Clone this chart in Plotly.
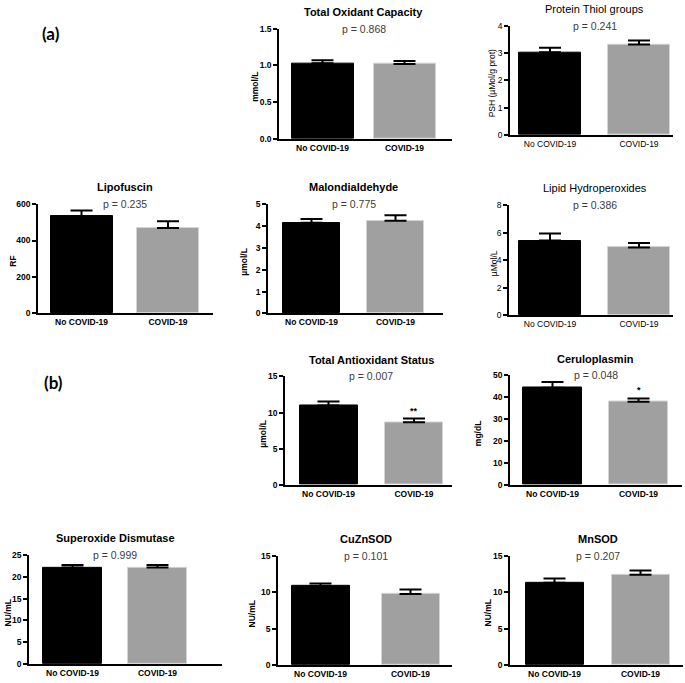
import plotly.graph_objects as go

W, H = 685, 683

groups = ["No COVID-19", "COVID-19"]
titles = ["Total Oxidant Capacity", "Protein Thiol groups", "Lipofuscin", "Malondialdehyde",
          "Lipid Hydroperoxides", "Total Antioxidant Status", "Ceruloplasmin",
          "Superoxide Dismutase", "CuZnSOD", "MnSOD"]
p_values = ["0.868", "0.241", "0.235", "0.775", "0.386", "0.007", "0.048", "0.999", "0.101", "0.207"]
units = ["mmol/L", "PSH (µMol/g prot)", "RF", "µmol/L", "µMol/L", "µmol/L", "mg/dL",
         "NU/mL", "NU/mL", "NU/mL"]
mean_no_covid = [1.03, 3.03, 535, 4.15, 5.42, 11.0, 44.4, 22.1, 10.86, 11.3]
sem_no_covid = [0.04, 0.16, 30, 0.17, 0.52, 0.55, 2.6, 0.6, 0.35, 0.6]
mean_covid = [1.02, 3.31, 469, 4.24, 4.92, 8.68, 38.0, 22.1, 9.77, 12.4]
sem_covid = [0.04, 0.15, 37, 0.25, 0.33, 0.50, 1.5, 0.6, 0.6, 0.6]
y_max = [1.5, 4, 600, 5, 8, 15, 50, 25, 15, 15]
y_step = [0.5, 1, 200, 1, 2, 5, 10, 5, 5, 5]
y_fmt = [".1f", "d", "d", "d", "d", "d", "d", "d", "d", "d"]
stars = ["", "", "", "", "", "**", "*", "", "", ""]
plain_style = [False, True, False, False, True, False, False, False, False, False]

# panel geometry in pixels: left, right, top, bottom, black centre, grey centre, bar px, ylabel x
geom = [
    (279, 452, 24, 136, 322.5, 404.5, 62, 255),
    (510, 673, 21, 132, 550, 639, 62, 492),
    (38, 213, 202, 313, 81.5, 168, 62, 13),
    (268, 443, 202, 313, 311.5, 395.5, 57, 244),
    (509, 673, 203, 315, 550, 639, 62, 494),
    (285, 452, 377, 487, 328.5, 414, 58, 263),
    (510, 682, 376, 487, 552.5, 638.5, 59, 478),
    (29, 222, 558, 669, 72.5, 157.5, 59, 8),
    (278, 452, 559, 670, 320.5, 410.5, 58, 252),
    (510, 683, 559, 670, 554.5, 640.5, 58, 488),
]

FONT = "Liberation Sans, Arial, sans-serif"
fig = go.Figure()
annotations = []
layout = {}

for i in range(10):
    L, R, T, B, cb, cg, bpx, ylx = geom[i]
    n = "" if i == 0 else str(i + 1)
    unit = cg - cb
    xr = [-(cb - L) / unit, (R - cb) / unit]
    bw = bpx / unit
    weight = "normal" if plain_style[i] else "bold"
    fig.add_trace(go.Bar(
        x=groups, y=[mean_no_covid[i], mean_covid[i]],
        width=bw,
        marker=dict(color=["#000000", "#a0a0a0"],
                    line=dict(color=["#000000", "#d4d4d4"], width=1)),
        error_y=dict(type="data", symmetric=False,
                     array=[sem_no_covid[i], sem_covid[i]], arrayminus=[0, 0],
                     color="#000000", thickness=2, width=11),
        xaxis="x" + n, yaxis="y" + n, showlegend=False, hoverinfo="skip",
    ))
    layout["xaxis" + n] = dict(
        domain=[L / W, R / W], anchor="y" + n, range=xr, type="category",
        showline=True, linecolor="black", linewidth=1.5, ticks="",
        showgrid=False, zeroline=False, fixedrange=True,
        tickfont=dict(family=FONT, size=8.5, color="black", weight=weight),
    )
    layout["yaxis" + n] = dict(
        domain=[1 - B / H, 1 - T / H], anchor="x" + n, range=[0, y_max[i]],
        dtick=y_step[i], tick0=0, tickformat=y_fmt[i],
        showline=True, linecolor="black", linewidth=1.5,
        ticks="outside", ticklen=4, tickwidth=1.5, tickcolor="black",
        showgrid=False, zeroline=False, fixedrange=True,
        tickfont=dict(family=FONT, size=8.5, color="black", weight=weight),
    )
    # title
    annotations.append(dict(
        text=titles[i], x=0.5, xref="x" + n, y=1 - (T - 17) / H, yref="paper",
        showarrow=False, xanchor="center", yanchor="middle",
        font=dict(family=FONT, size=11, color="black", weight=weight),
    ))
    # p value
    annotations.append(dict(
        text="p = " + p_values[i], x=0.5, xref="x" + n, y=1 - T / H, yref="paper",
        showarrow=False, xanchor="center", yanchor="middle",
        font=dict(family=FONT, size=10.5, color="#3c3c3c"),
    ))
    # y label
    annotations.append(dict(
        text=units[i], x=ylx / W, xref="paper", y=1 - ((T + B) / 2 + 3) / H, yref="paper",
        showarrow=False, xanchor="center", yanchor="middle", textangle=-90,
        font=dict(family=FONT, size=8.5, color="black", weight=weight),
    ))
    if stars[i]:
        annotations.append(dict(
            text=stars[i], x=groups[1], xref="x" + n, y=mean_covid[i] + sem_covid[i],
            yref="y" + n, showarrow=False, yanchor="bottom", yshift=1,
            font=dict(family=FONT, size=9, color="black", weight="bold"),
        ))

annotations.append(dict(text="(a)", x=51 / W, y=1 - 29 / H, xref="paper", yref="paper",
                        xanchor="center", yanchor="middle",
                        showarrow=False, font=dict(family="Lato, sans-serif", size=17,
                                                   color="black", weight="bold")))
annotations.append(dict(text="(b)", x=53 / W, y=1 - 383 / H, xref="paper", yref="paper",
                        xanchor="center", yanchor="middle",
                        showarrow=False, font=dict(family="Lato, sans-serif", size=17,
                                                   color="black", weight="bold")))

fig.update_layout(
    width=W, height=H, margin=dict(l=0, r=0, t=0, b=0),
    paper_bgcolor="white", plot_bgcolor="white",
    annotations=annotations, bargap=0, **layout,
)
fig.write_html("out.html", config={"displayModeBar": False},
               post_script="document.body.style.margin='0';document.body.style.overflow='hidden';")
